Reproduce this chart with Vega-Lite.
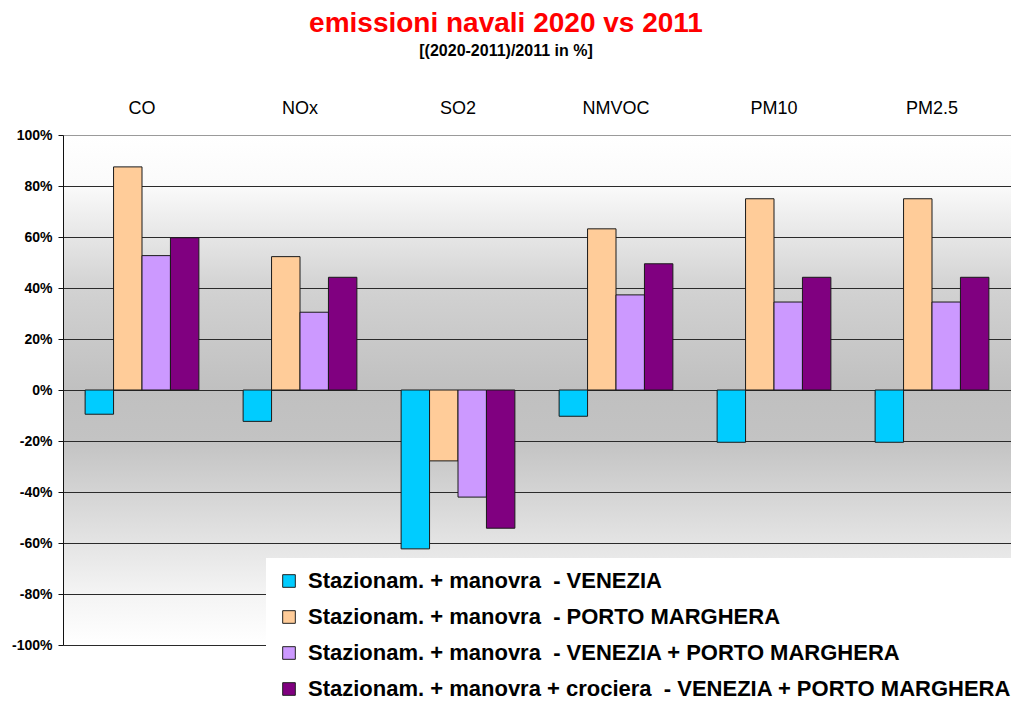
{
  "$schema": "https://vega.github.io/schema/vega-lite/v6.json",
  "width": 948,
  "height": 510,
  "autosize": {"type": "none"},
  "padding": {"left": 63, "top": 135, "right": 0, "bottom": 57},
  "title": {
    "text": "emissioni navali 2020 vs 2011",
    "subtitle": "[(2020-2011)/2011 in %]",
    "color": "#ff0000",
    "fontSize": 28,
    "font": "Liberation Sans",
    "fontWeight": "bold",
    "subtitleFont": "Liberation Sans",
    "subtitleFontWeight": "bold",
    "subtitleFontSize": 16,
    "subtitleColor": "black",
    "subtitlePadding": 5,
    "anchor": "middle",
    "frame": "group",
    "dx": -31,
    "dy": 179,
    "offset": 0
  },
  "data": {
    "values": [
      {"pollutant": "CO", "series": "Stazionam. + manovra\u00a0 - VENEZIA", "value": -9.5},
      {"pollutant": "CO", "series": "Stazionam. + manovra\u00a0 - PORTO MARGHERA", "value": 87.5},
      {"pollutant": "CO", "series": "Stazionam. + manovra\u00a0 - VENEZIA + PORTO MARGHERA", "value": 52.7},
      {"pollutant": "CO", "series": "Stazionam. + manovra + crociera\u00a0 - VENEZIA + PORTO MARGHERA", "value": 59.7},
      {"pollutant": "NOx", "series": "Stazionam. + manovra\u00a0 - VENEZIA", "value": -12.3},
      {"pollutant": "NOx", "series": "Stazionam. + manovra\u00a0 - PORTO MARGHERA", "value": 52.3},
      {"pollutant": "NOx", "series": "Stazionam. + manovra\u00a0 - VENEZIA + PORTO MARGHERA", "value": 30.5},
      {"pollutant": "NOx", "series": "Stazionam. + manovra + crociera\u00a0 - VENEZIA + PORTO MARGHERA", "value": 44.2},
      {"pollutant": "SO2", "series": "Stazionam. + manovra\u00a0 - VENEZIA", "value": -62.3},
      {"pollutant": "SO2", "series": "Stazionam. + manovra\u00a0 - PORTO MARGHERA", "value": -27.8},
      {"pollutant": "SO2", "series": "Stazionam. + manovra\u00a0 - VENEZIA + PORTO MARGHERA", "value": -42},
      {"pollutant": "SO2", "series": "Stazionam. + manovra + crociera\u00a0 - VENEZIA + PORTO MARGHERA", "value": -54.2},
      {"pollutant": "NMVOC", "series": "Stazionam. + manovra\u00a0 - VENEZIA", "value": -10.3},
      {"pollutant": "NMVOC", "series": "Stazionam. + manovra\u00a0 - PORTO MARGHERA", "value": 63.2},
      {"pollutant": "NMVOC", "series": "Stazionam. + manovra\u00a0 - VENEZIA + PORTO MARGHERA", "value": 37.3},
      {"pollutant": "NMVOC", "series": "Stazionam. + manovra + crociera\u00a0 - VENEZIA + PORTO MARGHERA", "value": 49.5},
      {"pollutant": "PM10", "series": "Stazionam. + manovra\u00a0 - VENEZIA", "value": -20.5},
      {"pollutant": "PM10", "series": "Stazionam. + manovra\u00a0 - PORTO MARGHERA", "value": 75},
      {"pollutant": "PM10", "series": "Stazionam. + manovra\u00a0 - VENEZIA + PORTO MARGHERA", "value": 34.5},
      {"pollutant": "PM10", "series": "Stazionam. + manovra + crociera\u00a0 - VENEZIA + PORTO MARGHERA", "value": 44.2},
      {"pollutant": "PM2.5", "series": "Stazionam. + manovra\u00a0 - VENEZIA", "value": -20.5},
      {"pollutant": "PM2.5", "series": "Stazionam. + manovra\u00a0 - PORTO MARGHERA", "value": 75},
      {"pollutant": "PM2.5", "series": "Stazionam. + manovra\u00a0 - VENEZIA + PORTO MARGHERA", "value": 34.5},
      {"pollutant": "PM2.5", "series": "Stazionam. + manovra + crociera\u00a0 - VENEZIA + PORTO MARGHERA", "value": 44.2}
    ]
  },
  "layer": [
    {
      "mark": {"type": "bar", "opacity": 0},
      "encoding": {
        "x": {
          "field": "pollutant", "type": "nominal",
          "sort": ["CO", "NOx", "SO2", "NMVOC", "PM10", "PM2.5"],
          "scale": {"paddingInner": 0.28, "paddingOuter": 0.14},
          "axis": {
            "orient": "bottom", "offset": -255, "labels": false, "title": null,
            "domain": false, "ticks": true, "tickSize": 5, "tickColor": "#111",
            "bandPosition": 0, "grid": false
          }
        },
        "y": {"field": "value", "type": "quantitative"}
      }
    },
    {
      "mark": {"type": "bar", "stroke": "#1a1a1a", "strokeWidth": 1},
      "encoding": {
        "x": {
          "field": "pollutant", "type": "nominal",
          "sort": ["CO", "NOx", "SO2", "NMVOC", "PM10", "PM2.5"],
          "axis": {
            "orient": "top", "title": null, "ticks": false, "domain": false,
            "labelAngle": 0, "labelFontSize": 18, "labelPadding": 18,
            "labelFont": "Liberation Sans", "labelColor": "black", "grid": false
          }
        },
        "xOffset": {
          "field": "series", "type": "nominal",
          "sort": [
            "Stazionam. + manovra\u00a0 - VENEZIA",
            "Stazionam. + manovra\u00a0 - PORTO MARGHERA",
            "Stazionam. + manovra\u00a0 - VENEZIA + PORTO MARGHERA",
            "Stazionam. + manovra + crociera\u00a0 - VENEZIA + PORTO MARGHERA"
          ],
          "scale": {"paddingInner": 0, "paddingOuter": 0}
        },
        "y": {
          "field": "value", "type": "quantitative",
          "scale": {"domain": [-100, 100], "nice": false},
          "axis": {
            "values": [-100, -80, -60, -40, -20, 0, 20, 40, 60, 80, 100],
            "labelExpr": "datum.value + '%'",
            "title": null,
            "labelFont": "Liberation Sans", "labelFontWeight": "bold", "labelFontSize": 14,
            "labelColor": "black", "labelPadding": 6,
            "tickColor": "#111", "tickSize": 5,
            "domainColor": "#111",
            "grid": true,
            "gridColor": {"condition": {"test": "datum.value === 100", "value": "#9a9a9a"}, "value": "#2a2a2a"},
            "gridWidth": 1.2
          }
        },
        "color": {
          "field": "series", "type": "nominal",
          "sort": [
            "Stazionam. + manovra\u00a0 - VENEZIA",
            "Stazionam. + manovra\u00a0 - PORTO MARGHERA",
            "Stazionam. + manovra\u00a0 - VENEZIA + PORTO MARGHERA",
            "Stazionam. + manovra + crociera\u00a0 - VENEZIA + PORTO MARGHERA"
          ],
          "scale": {"range": ["#00ccff", "#ffcc99", "#cc99ff", "#800080"]},
          "legend": {
            "orient": "none", "legendX": 203, "legendY": 423,
            "title": null, "fillColor": "white", "padding": 12,
            "symbolType": "square", "symbolSize": 160,
            "symbolStrokeColor": "#222", "symbolStrokeWidth": 1, "symbolOpacity": 1,
            "labelFont": "Liberation Sans", "labelFontWeight": "bold", "labelFontSize": 22,
            "labelColor": "black", "rowPadding": 14, "labelOffset": 8, "labelLimit": 0
          }
        }
      }
    }
  ],
  "resolve": {"axis": {"x": "independent"}},
  "config": {
    "view": {
      "stroke": null,
      "fill": {
        "gradient": "linear", "x1": 0, "y1": 0, "x2": 0, "y2": 1,
        "stops": [
          {"offset": 0, "color": "#ffffff"},
          {"offset": 0.1, "color": "#fafafa"},
          {"offset": 0.3, "color": "#d2d2d2"},
          {"offset": 0.5, "color": "#c0c0c0"},
          {"offset": 0.6, "color": "#c3c3c3"},
          {"offset": 0.75, "color": "#dcdcdc"},
          {"offset": 0.9, "color": "#f4f4f4"},
          {"offset": 1, "color": "#ffffff"}
        ]
      }
    }
  }
}
